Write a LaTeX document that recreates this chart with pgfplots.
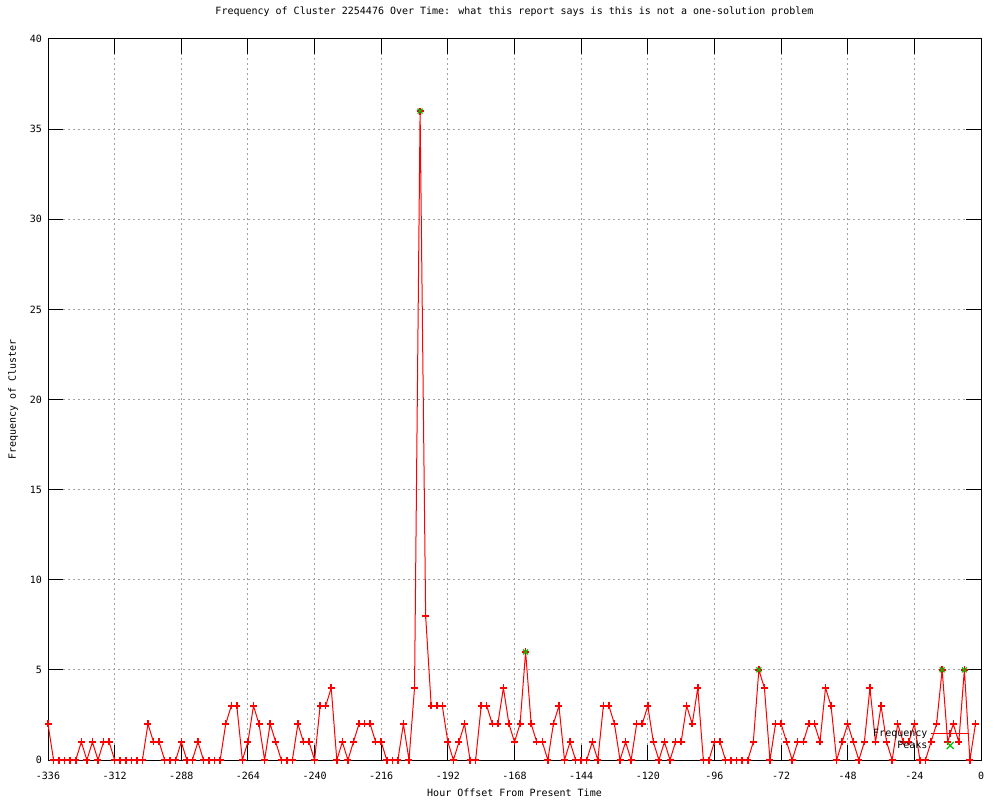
\documentclass[border=0pt]{standalone}
\usepackage{fontspec}
\setmainfont{DejaVu Sans Mono}
\usepackage{pgfplots}
\usepackage{pgfplotstable}
\pgfplotsset{compat=1.18}
\definecolor{gpgreen}{RGB}{0,192,0}
\definecolor{gridgray}{RGB}{160,160,160}

\pgfplotstableread{
x y
-336 2
-334 0
-332 0
-330 0
-328 0
-326 0
-324 1
-322 0
-320 1
-318 0
-316 1
-314 1
-312 0
-310 0
-308 0
-306 0
-304 0
-302 0
-300 2
-298 1
-296 1
-294 0
-292 0
-290 0
-288 1
-286 0
-284 0
-282 1
-280 0
-278 0
-276 0
-274 0
-272 2
-270 3
-268 3
-266 0
-264 1
-262 3
-260 2
-258 0
-256 2
-254 1
-252 0
-250 0
-248 0
-246 2
-244 1
-242 1
-240 0
-238 3
-236 3
-234 4
-232 0
-230 1
-228 0
-226 1
-224 2
-222 2
-220 2
-218 1
-216 1
-214 0
-212 0
-210 0
-208 2
-206 0
-204 4
-202 36
-200 8
-198 3
-196 3
-194 3
-192 1
-190 0
-188 1
-186 2
-184 0
-182 0
-180 3
-178 3
-176 2
-174 2
-172 4
-170 2
-168 1
-166 2
-164 6
-162 2
-160 1
-158 1
-156 0
-154 2
-152 3
-150 0
-148 1
-146 0
-144 0
-142 0
-140 1
-138 0
-136 3
-134 3
-132 2
-130 0
-128 1
-126 0
-124 2
-122 2
-120 3
-118 1
-116 0
-114 1
-112 0
-110 1
-108 1
-106 3
-104 2
-102 4
-100 0
-98 0
-96 1
-94 1
-92 0
-90 0
-88 0
-86 0
-84 0
-82 1
-80 5
-78 4
-76 0
-74 2
-72 2
-70 1
-68 0
-66 1
-64 1
-62 2
-60 2
-58 1
-56 4
-54 3
-52 0
-50 1
-48 2
-46 1
-44 0
-42 1
-40 4
-38 1
-36 3
-34 1
-32 0
-30 2
-28 1
-26 1
-24 2
-22 0
-20 0
-18 1
-16 2
-14 5
-12 1
-10 2
-8 1
-6 5
-4 0
-2 2
}\freqdata

\pgfplotstableread{
x y
-202 36
-164 6
-80 5
-14 5
-6 5
}\peakdata

\begin{document}
\begin{tikzpicture}[x=1pt,y=1pt,font=\fontsize{10}{12}\selectfont]
\path[use as bounding box] (0,0) rectangle (1000,800);
\begin{axis}[
  at={(48pt,40pt)}, anchor=south west,
  scale only axis, width=933pt, height=721pt,
  xmin=-336, xmax=0, ymin=0, ymax=40,
  xtick={-336,-312,...,0}, ytick={0,5,...,40},
  tick align=inside, major tick length=15pt,
  every tick/.style={black, line width=1pt},
  axis line style={black, line width=1pt},
  grid=major,
  major grid style={gridgray, line width=1pt, dash pattern=on 2pt off 3pt},
  /pgf/number format/assume math mode=true,
  tick label style={font=\fontsize{10}{12}\selectfont},
  xticklabel style={inner sep=0pt, yshift=-12pt},
  yticklabel style={inner sep=0pt, xshift=-6pt},
  title={Frequency of Cluster 2254476 Over Time: what this report says is this is not a one-solution problem},
  title style={at={(axis description cs:0.5,1.0291)}, anchor=center, font=\fontsize{10}{12}\selectfont, inner sep=0pt},
  xlabel={Hour Offset From Present Time},
  xlabel style={at={(axis description cs:0.5,-0.0458)}, anchor=center, font=\fontsize{10}{12}\selectfont, inner sep=0pt},
  ylabel={Frequency of Cluster},
  ylabel style={at={(axis description cs:-0.0375,0.5)}, anchor=center, font=\fontsize{10}{12}\selectfont, inner sep=0pt},
  legend plot pos=right,
  legend cell align=right,
  legend style={draw=none, fill=none, at={(axis description cs:0.9882,0.043)}, anchor=north east,
    inner sep=0pt, outer sep=0pt, row sep=3pt, column sep=3pt,
    nodes={inner sep=0pt, text height=7pt, text depth=2pt},
    font=\fontsize{10}{12}\selectfont},
]
\addplot[red, line width=1pt, mark=none,
  legend image code/.code={\draw[red,line width=1.6pt] (0pt,0pt)--(38pt,0pt);
    \draw[red,line width=1.6pt] (15.5pt,0pt)--(22.5pt,0pt) (19pt,-3.5pt)--(19pt,3.5pt);}]
  table[x=x,y=y] {\freqdata};
\addlegendentry{Frequency}
\addplot[red, only marks, mark=+, mark size=3.5pt, mark options={red, line width=1.5pt}, forget plot]
  table[x=x,y=y] {\freqdata};
\addplot[gpgreen, only marks, mark=x, mark size=3.5pt, mark options={gpgreen, line width=1.2pt},
  legend image code/.code={\draw[gpgreen,line width=1.2pt] (15.5pt,-3.5pt)--(22.5pt,3.5pt) (15.5pt,3.5pt)--(22.5pt,-3.5pt);}]
  table[x=x,y=y] {\peakdata};
\addlegendentry{Peaks}
\end{axis}
\end{tikzpicture}
\end{document}
